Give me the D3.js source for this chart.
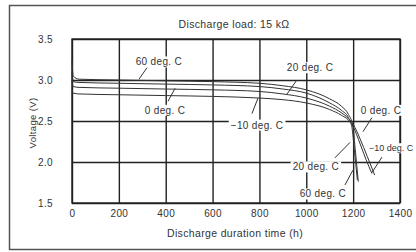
<!DOCTYPE html>
<html>
<head>
<meta charset="utf-8">
<script src="https://cdn.jsdelivr.net/npm/d3@7"></script>
<style>
  body { margin: 0; background: #fff; }
  text { font-family: "Liberation Sans", Arial, sans-serif; fill: #333; letter-spacing: 0.35px; }
</style>
</head>
<body>
<div id="chart"></div>
<script>
// data
var xTicks = [0, 200, 400, 600, 800, 1000, 1200, 1400];
var yTicks = [1.5, 2.0, 2.5, 3.0, 3.5];

var hours60 = [0, 5, 30, 200, 400, 600, 800, 900, 1000, 1100, 1150, 1180, 1198, 1210, 1222];
var volts60 = [3.24, 3.05, 3.01, 3.0, 2.99, 2.98, 2.96, 2.93, 2.88, 2.77, 2.68, 2.58, 2.45, 2.12, 1.76];

var hours20 = [0, 5, 30, 200, 400, 600, 800, 900, 1000, 1100, 1150, 1180, 1195, 1205, 1218];
var volts20 = [3.1, 2.98, 2.97, 2.96, 2.95, 2.94, 2.92, 2.89, 2.84, 2.72, 2.63, 2.54, 2.42, 2.15, 1.78];

var hours0 = [0, 5, 30, 200, 400, 600, 800, 900, 1000, 1100, 1150, 1180, 1200, 1230, 1260, 1292];
var volts0 = [3.0, 2.92, 2.91, 2.9, 2.89, 2.88, 2.86, 2.83, 2.78, 2.68, 2.6, 2.53, 2.46, 2.28, 2.07, 1.84];

var hoursM10 = [0, 5, 30, 200, 400, 600, 800, 900, 1000, 1100, 1150, 1180, 1200, 1230, 1255, 1280];
var voltsM10 = [2.88, 2.84, 2.83, 2.82, 2.81, 2.8, 2.78, 2.76, 2.72, 2.64, 2.57, 2.51, 2.43, 2.22, 2.03, 1.86];

var seriesHours = [hours60, hours20, hours0, hoursM10];
var seriesVolts = [volts60, volts20, volts0, voltsM10];

// callout labels: text, label centre (h, V), leader from (h, V) to (h, V)
var labelText = ["60 deg. C", "20 deg. C", "0 deg. C", "\u221210 deg. C",
                 "0 deg. C", "\u221210 deg. C", "20 deg. C", "60 deg. C"];
var labelAt = [[371, 3.22], [1016, 3.15], [397, 2.63], [790, 2.45],
               [1319, 2.63], [1268, 2.17], [1041, 1.94], [1071, 1.61]];
var leaderFrom = [[320, 3.15], [960, 3.0], [410, 2.74], [768, 2.59],
                  [1280, 2.54], [1323, 2.06], [1122, 2.05], [1165, 1.72]];
var leaderTo = [[286, 3.01], [918, 2.83], [440, 2.9], [794, 2.78],
                [1242, 2.37], [1280, 1.87], [1187, 2.24], [1199, 1.9]];
var labelAnchor = ["middle", "middle", "middle", "middle", "middle", "start", "middle", "middle"];
var labelSize = [10, 10, 10, 10, 10, 9, 10, 10];

var svgWidth = 416;
var svgHeight = 252;
var margin = { top: 39, right: 16, bottom: 49, left: 72 };
var width = svgWidth - margin.left - margin.right;
var height = svgHeight - margin.top - margin.bottom;

var svg = d3.select("#chart").append("svg")
    .attr("width", svgWidth)
    .attr("height", svgHeight);

// outer frame (right edge runs off the picture)
svg.append("rect")
    .attr("x", 9.5).attr("y", 5.5)
    .attr("width", 420).attr("height", 244)
    .attr("fill", "none")
    .attr("stroke", "#555")
    .attr("stroke-width", 1.5);

var chartGroup = svg.append("g")
    .attr("transform", `translate(${margin.left}, ${margin.top})`);

var x = d3.scaleLinear().domain([0, 1400]).range([0, width]);
var y = d3.scaleLinear().domain([1.5, 3.5]).range([height, 0]);

// grid
chartGroup.append("g")
    .call(d3.axisBottom(x).tickValues(xTicks).tickSize(-height).tickFormat(""))
    .attr("transform", `translate(0, ${height})`)
    .call(g => g.select(".domain").remove())
    .selectAll("line").attr("stroke", "#222").attr("stroke-width", 1.4);

chartGroup.append("g")
    .call(d3.axisLeft(y).tickValues(yTicks).tickSize(-width).tickFormat(""))
    .call(g => g.select(".domain").remove())
    .selectAll("line").attr("stroke", "#222").attr("stroke-width", 1.4);

chartGroup.append("rect")
    .attr("width", width).attr("height", height)
    .attr("fill", "none").attr("stroke", "#222").attr("stroke-width", 1.4);

// tick labels
chartGroup.append("g")
    .attr("transform", `translate(0, ${height})`)
    .call(d3.axisBottom(x).tickValues(xTicks).tickSize(0).tickPadding(7).tickFormat(d3.format("d")))
    .call(g => g.select(".domain").remove())
    .selectAll("text").attr("font-size", 10).attr("fill", "#555");

chartGroup.append("g")
    .call(d3.axisLeft(y).tickValues(yTicks).tickSize(0).tickPadding(19).tickFormat(d3.format(".1f")))
    .call(g => g.select(".domain").remove())
    .selectAll("text").attr("font-size", 10).attr("fill", "#555");

// curves
var line = d3.line()
    .x(d => x(d[0]))
    .y(d => y(d[1]))
    .curve(d3.curveMonotoneX);

seriesHours.forEach(function (hrs, i) {
    var pts = hrs.map((h, j) => [h, seriesVolts[i][j]]);
    chartGroup.append("path")
        .datum(pts)
        .attr("d", line)
        .attr("fill", "none")
        .attr("stroke", "#333")
        .attr("stroke-width", 1);
});

// callouts
labelText.forEach(function (t, i) {
    var lx = x(labelAt[i][0]);
    var ly = y(labelAt[i][1]);
    var txt = chartGroup.append("text")
        .attr("x", lx).attr("y", ly)
        .attr("dy", "0.35em")
        .attr("text-anchor", labelAnchor[i])
        .attr("font-size", labelSize[i])
        .style("letter-spacing", labelSize[i] < 10 ? "0px" : null)
        .text(t);
    var bb = txt.node().getBBox();
    chartGroup.insert("rect", function () { return txt.node(); })
        .attr("x", bb.x - 2).attr("y", bb.y)
        .attr("width", bb.width + 4).attr("height", bb.height)
        .attr("fill", "#fff");
    chartGroup.append("line")
        .attr("x1", x(leaderFrom[i][0])).attr("y1", y(leaderFrom[i][1]))
        .attr("x2", x(leaderTo[i][0])).attr("y2", y(leaderTo[i][1]))
        .attr("stroke", "#333").attr("stroke-width", 1);
});

// titles
svg.append("text")
    .attr("x", 234).attr("y", 24)
    .attr("dy", "0.35em")
    .attr("text-anchor", "middle")
    .attr("font-size", 10.5)
    .text("Discharge load: 15 k\u03A9");

svg.append("text")
    .attr("x", 235).attr("y", 233)
    .attr("dy", "0.35em")
    .attr("text-anchor", "middle")
    .attr("font-size", 10.5)
    .text("Discharge duration time (h)");

svg.append("text")
    .attr("transform", "translate(33, 123) rotate(-90)")
    .attr("dy", "0.35em")
    .attr("text-anchor", "middle")
    .attr("font-size", 9.5)
    .text("Voltage (V)");
</script>
</body>
</html>
